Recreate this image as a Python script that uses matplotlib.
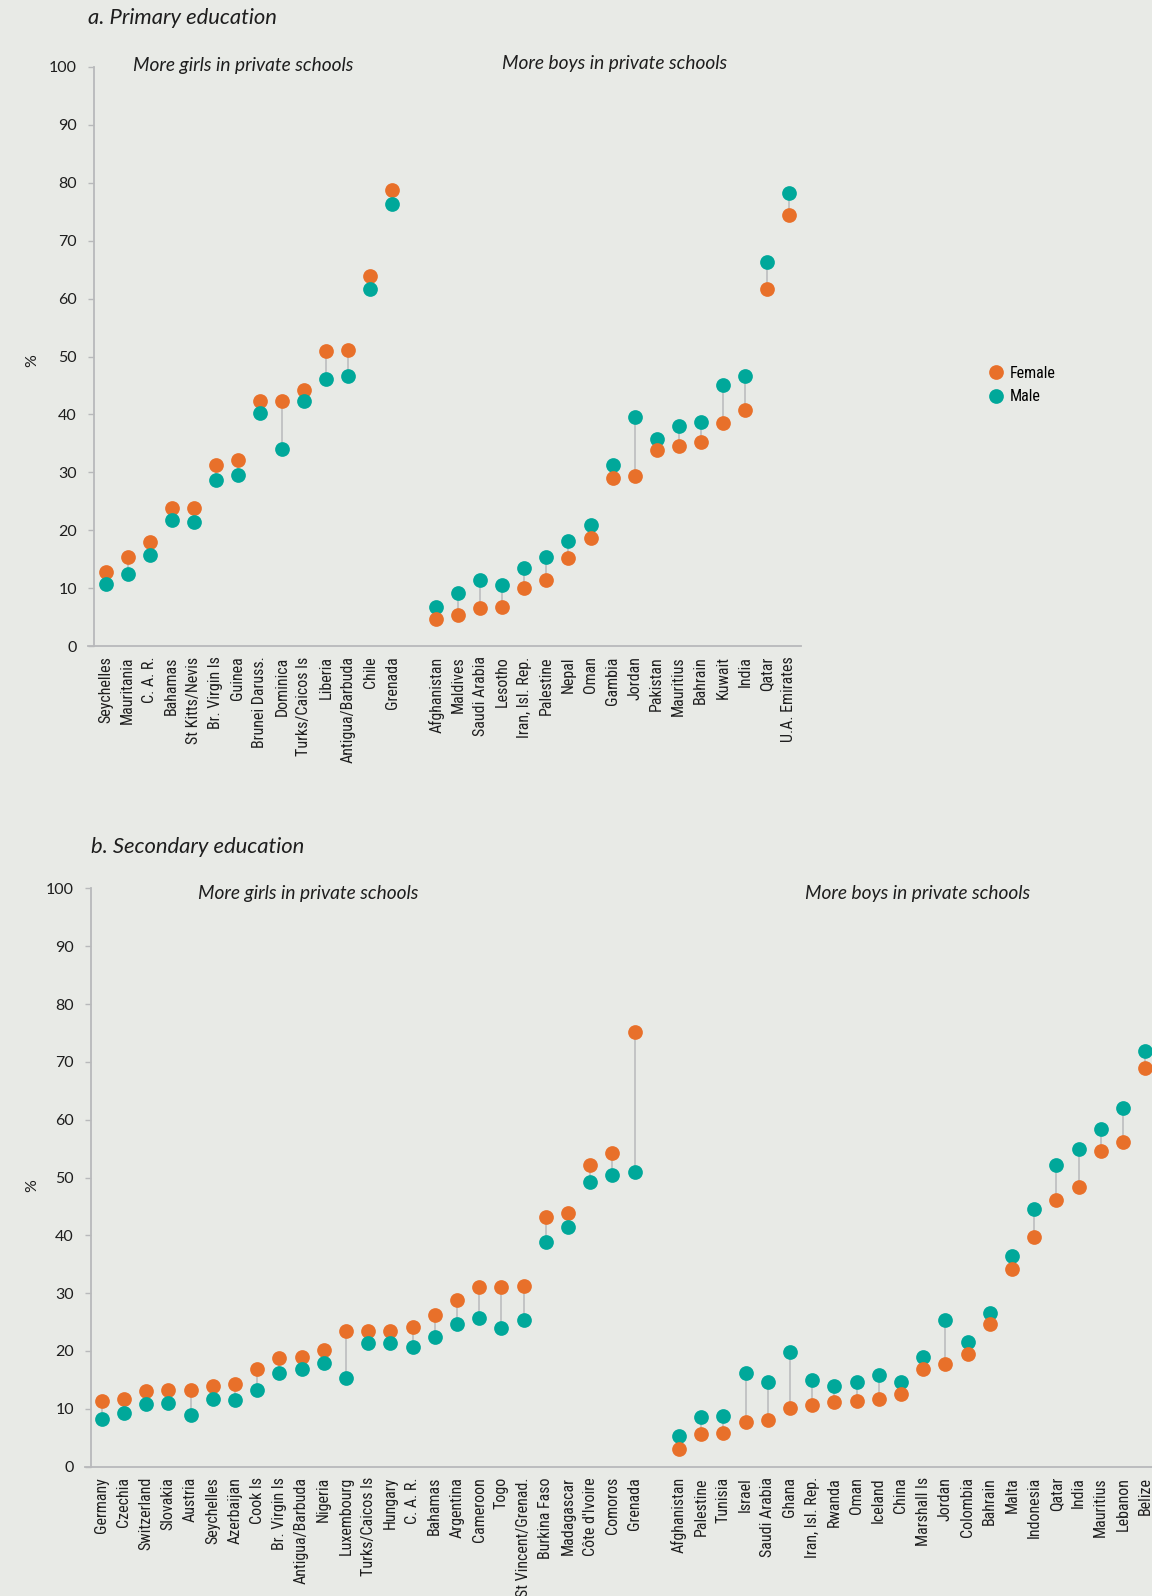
import matplotlib
matplotlib.use('Agg')
import matplotlib.pyplot as plt
from matplotlib import font_manager
from matplotlib.lines import Line2D

# a. primary education, % enrolled in private schools
prim_girls = ['Seychelles', 'Mauritania', 'C. A. R.', 'Bahamas', 'St Kitts/Nevis', 'Br. Virgin Is',
              'Guinea', 'Brunei Daruss.', 'Dominica', 'Turks/Caicos Is', 'Liberia',
              'Antigua/Barbuda', 'Chile', 'Grenada']
prim_girls_f = [12.7, 15.4, 17.9, 23.8, 23.8, 31.3, 32.2, 42.4, 42.4, 44.3, 50.9, 51.2, 63.9, 78.7]
prim_girls_m = [10.7, 12.4, 15.8, 21.7, 21.5, 28.6, 29.5, 40.2, 34.1, 42.3, 46.1, 46.6, 61.7, 76.3]

prim_boys = ['Afghanistan', 'Maldives', 'Saudi Arabia', 'Lesotho', 'Iran, Isl. Rep.', 'Palestine',
             'Nepal', 'Oman', 'Gambia', 'Jordan', 'Pakistan', 'Mauritius', 'Bahrain', 'Kuwait',
             'India', 'Qatar', 'U.A. Emirates']
prim_boys_f = [4.6, 5.4, 6.6, 6.8, 10.1, 11.4, 15.2, 18.6, 29.0, 29.4, 33.8, 34.6, 35.2, 38.6, 40.7, 61.6, 74.5]
prim_boys_m = [6.8, 9.2, 11.4, 10.5, 13.5, 15.3, 18.2, 20.9, 31.3, 39.5, 35.7, 38.0, 38.7, 45.1, 46.7, 66.3, 78.2]

# b. secondary education
sec_girls = ['Germany', 'Czechia', 'Switzerland', 'Slovakia', 'Austria', 'Seychelles', 'Azerbaijan',
             'Cook Is', 'Br. Virgin Is', 'Antigua/Barbuda', 'Nigeria', 'Luxembourg',
             'Turks/Caicos Is', 'Hungary', 'C. A. R.', 'Bahamas', 'Argentina', 'Cameroon', 'Togo',
             'St Vincent/Grenad.', 'Burkina Faso', 'Madagascar', "Côte d'Ivoire", 'Comoros', 'Grenada']
sec_girls_f = [11.3, 11.7, 13.0, 13.2, 13.2, 13.9, 14.3, 16.9, 18.8, 19.0, 20.1, 23.5, 23.5, 23.5,
               24.2, 26.2, 28.8, 31.1, 31.1, 31.3, 43.1, 43.8, 52.2, 54.3, 75.2]
sec_girls_m = [8.3, 9.2, 10.8, 11.0, 8.9, 11.7, 11.6, 13.3, 16.2, 16.9, 17.9, 15.4, 21.3, 21.3,
               20.6, 22.4, 24.7, 25.7, 24.0, 25.3, 38.8, 41.4, 49.3, 50.4, 51.0]

sec_boys = ['Afghanistan', 'Palestine', 'Tunisia', 'Israel', 'Saudi Arabia', 'Ghana', 'Iran, Isl. Rep.',
            'Rwanda', 'Oman', 'Iceland', 'China', 'Marshall Is', 'Jordan', 'Colombia', 'Bahrain',
            'Malta', 'Indonesia', 'Qatar', 'India', 'Mauritius', 'Lebanon', 'Belize']
sec_boys_f = [3.0, 5.7, 5.8, 7.8, 8.0, 10.1, 10.6, 11.2, 11.4, 11.7, 12.6, 16.9, 17.8, 19.4, 24.6,
              34.2, 39.7, 46.1, 48.4, 54.6, 56.2, 69.0]
sec_boys_m = [5.3, 8.6, 8.7, 16.2, 14.6, 19.9, 14.9, 13.9, 14.6, 15.8, 14.6, 19.0, 25.4, 21.5, 26.6,
              36.5, 44.6, 52.2, 54.9, 58.4, 62.0, 71.8]

ORANGE = '#E8702A'
TEAL = '#00A89A'
GREY = '#B8B9BB'
BG = '#E8EAE6'
INK = '#1E1E1E'

avail = {f.name for f in font_manager.fontManager.ttflist}
COND = next((f for f in ['Liberation Sans Narrow', 'Roboto Condensed', 'Open Sans Condensed']
             if f in avail), 'DejaVu Sans')
TICK_SIZE = 11.5 if COND != 'DejaVu Sans' else 9.5
HEAD = 'Lato' if 'Lato' in avail else 'DejaVu Sans'

plt.rcParams['font.family'] = [HEAD, 'DejaVu Sans']

W, H = 1152, 1596
fig = plt.figure(figsize=(W / 100, H / 100), dpi=100, facecolor=BG)


def px_axes(x0, x1, y0, y1):
    # pixel box (left, right, top, bottom) -> figure axes
    return fig.add_axes([x0 / W, 1 - y1 / H, (x1 - x0) / W, (y1 - y0) / H])


def dumbbell(ax, left, left_f, left_m, right, right_f, right_m, xlim):
    names = left + [''] + right
    xl = list(range(len(left)))
    xr = list(range(len(left) + 1, len(names)))
    ax.vlines(xl, left_m, left_f, color=GREY, lw=1.1, zorder=1)
    ax.vlines(xr, right_f, right_m, color=GREY, lw=1.1, zorder=1)
    ms = 10.6
    ax.plot(xl, left_f, 'o', color=ORANGE, ms=ms, mew=0, zorder=2)
    ax.plot(xl, left_m, 'o', color=TEAL, ms=ms, mew=0, zorder=3)
    ax.plot(xr, right_m, 'o', color=TEAL, ms=ms, mew=0, zorder=2)
    ax.plot(xr, right_f, 'o', color=ORANGE, ms=ms, mew=0, zorder=3)

    ax.set_facecolor(BG)
    ax.set_xlim(*xlim)
    ax.set_ylim(0, 100)
    ax.set_yticks(range(0, 101, 10))
    ax.set_xticks(range(len(names)))
    ax.set_xticklabels(names, rotation=90, fontsize=TICK_SIZE, family=[COND, 'DejaVu Sans'],
                       color=INK)
    for s in ['top', 'right']:
        ax.spines[s].set_visible(False)
    for s in ['left', 'bottom']:
        ax.spines[s].set_color(GREY)
        ax.spines[s].set_linewidth(1.3)
    ax.tick_params(axis='x', length=0, pad=7.5)
    ax.tick_params(axis='y', length=4.5, width=1, color=GREY, pad=7.5, labelsize=11.5,
                   labelcolor=INK)
    ax.spines['bottom'].set_bounds(xlim[0] - 0.25, xlim[1])


ax_a = px_axes(93.5, 801, 67, 646)
dumbbell(ax_a, prim_girls, prim_girls_f, prim_girls_m, prim_boys, prim_boys_f, prim_boys_m,
         (-0.55, 31.55))

ax_b = px_axes(90.6, 1156.2, 888.4, 1466.6)
dumbbell(ax_b, sec_girls, sec_girls_f, sec_girls_m, sec_boys, sec_boys_f, sec_boys_m,
         (-0.5, 47.5))

# headings and group captions
def ftext(x, y, s, **kw):
    fig.text(x / W, 1 - y / H, s, color=INK, **kw)

ftext(87.5, 18, 'a. Primary education', fontsize=15.8, style='italic', va='center')
ftext(133, 65, 'More girls in private schools', fontsize=13.8, style='italic', va='center')
ftext(502, 63, 'More boys in private schools', fontsize=13.8, style='italic', va='center')

ftext(90.6, 847, 'b. Secondary education', fontsize=15.8, style='italic', va='center')
ftext(198.5, 893, 'More girls in private schools', fontsize=13.8, style='italic', va='center')
ftext(805, 893, 'More boys in private schools', fontsize=13.8, style='italic', va='center')

ftext(32.6, 361, '%', fontsize=11.5, rotation=90, ha='center', va='center')
ftext(32.6, 1186, '%', fontsize=11.5, rotation=90, ha='center', va='center')

handles = [Line2D([], [], ls='', marker='o', ms=10.6, mew=0, color=ORANGE),
           Line2D([], [], ls='', marker='o', ms=10.6, mew=0, color=TEAL)]
fig.legend(handles, ['Female', 'Male'], loc='center left', bbox_to_anchor=(982 / W, 1 - 385 / H),
           frameon=False, handlelength=0.8, handletextpad=0.45, labelspacing=0.55, borderpad=0,
           prop={'family': [COND, 'DejaVu Sans'], 'size': TICK_SIZE})

fig.savefig('out.png', dpi=100, facecolor=BG)
